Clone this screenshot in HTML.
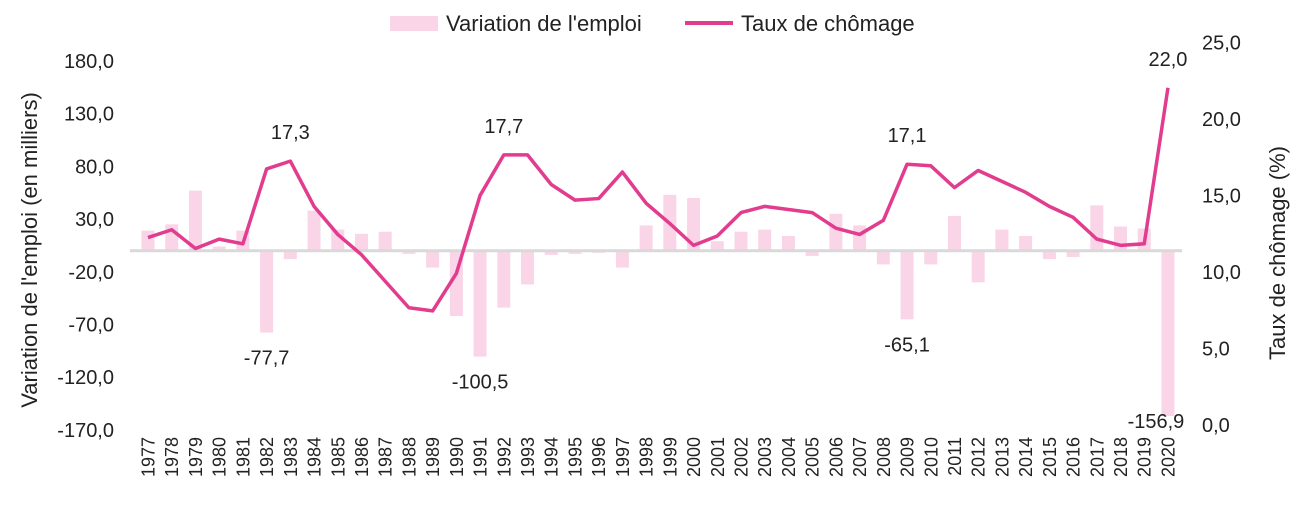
<!DOCTYPE html>
<html><head><meta charset="utf-8">
<style>
body{margin:0;background:#fff;}
svg{display:block;font-family:"Liberation Sans",Arial,sans-serif;}
</style></head>
<body>
<svg id="chart" width="1300" height="514" viewBox="0 0 1300 514" xmlns="http://www.w3.org/2000/svg">
<g>
<rect x="390" y="16" width="48" height="15" fill="#F9D5E7"/>
<text x="446" y="31" font-size="22" fill="#222">Variation de l'emploi</text>
<line x1="685" y1="23" x2="733" y2="23" stroke="#E23C8F" stroke-width="4"/>
<text x="741" y="31" font-size="22" fill="#222">Taux de chômage</text>
</g>
<text transform="translate(37,250) rotate(-90)" text-anchor="middle" font-size="22" fill="#222">Variation de l'emploi (en milliers)</text>
<text transform="translate(1285,253) rotate(-90)" text-anchor="middle" font-size="22" fill="#222">Taux de chômage (%)</text>
<g id="bars"></g><g id="zero"></g><g id="line"></g><g id="ticks"></g><g id="labels"></g>
</svg>
<script>
const years=[];for(let y=1977;y<=2020;y++)years.push(y);
const employment=[19,25,57,4,19,-77.7,-8,38,20,16,18,-3,-16,-62,-100.5,-54,-32,-4,-3,-2,-16,24,53,50,9,18,20,14,-5,35,24,-13,-65.1,-13,33,-30,20,14,-8,-6,43,23,21,-156.9];
const unemployment=[12.4,12.9,11.7,12.3,12.0,16.8,17.3,14.4,12.6,11.3,9.6,7.9,7.7,10.1,15.1,17.7,17.7,15.8,14.8,14.9,16.6,14.6,13.3,11.9,12.5,14.0,14.4,14.2,14.0,13.0,12.6,13.5,17.1,17.0,15.6,16.7,16.0,15.3,14.4,13.7,12.3,11.9,12.0,22.0];
const leftTicks=[180,130,80,30,-20,-70,-120,-170];
const rightTicks=[25,20,15,10,5,0];
const annotations=[[1983,'17,3','r'],[1982,'-77,7','e'],[1992,'17,7','r'],[1991,'-100,5','e'],[2009,'17,1','r'],[2009,'-65,1','e'],[2020,'22,0','r'],[2020,'-156,9','e']];
const NS='http://www.w3.org/2000/svg';
const x=i=>148+i*23.72;
const yL=v=>250.7-v*1.054;
const yR=v=>431-v*15.6;
const yRlab=v=>425-v*15.3;
function mk(tag,attrs,parent){const e=document.createElementNS(NS,tag);for(const k in attrs)e.setAttribute(k,attrs[k]);document.getElementById(parent).appendChild(e);return e;}
employment.forEach((v,i)=>{
 const r=mk('rect',{x:x(i)-6.5,y:Math.min(yL(v),yL(0)),width:13,height:Math.abs(yL(v)-yL(0)),fill:'#F9D5E7'},'bars');
 
 
});
const z=mk('line',{x1:130,x2:1182,y1:yL(0),y2:yL(0),stroke:'#D9D9D9','stroke-width':3},'zero');


const p=mk('polyline',{points:unemployment.map((v,i)=>x(i)+','+yR(v)).join(' '),fill:'none',stroke:'#E23C8F','stroke-width':3.5,'stroke-linejoin':'round'},'line');


leftTicks.forEach(v=>{
 const t=mk('text',{x:114,y:yL(v)+7,'text-anchor':'end','font-size':20,fill:'#222'},'ticks');
 t.textContent=v.toFixed(1).replace('.',',');
 
 
});
rightTicks.forEach(v=>{
 const t=mk('text',{x:1202,y:yRlab(v)+7,'font-size':20,fill:'#222'},'ticks');
 t.textContent=v.toFixed(1).replace('.',',');
 
 
});
years.forEach((yr,i)=>{
 const t=mk('text',{transform:'translate('+(x(i)+6.5)+',437) rotate(-90)','text-anchor':'end','font-size':18,fill:'#222'},'ticks');
 t.textContent=yr;
 
 
});
annotations.forEach(a=>{
 const i=years.indexOf(a[0]);
 let xx=x(i);
 let yy=a[2]==='r'?yR(unemployment[i])-22:yL(employment[i])+32;
 if(a[2]==='e'&&a[0]===2020){xx=x(i)-12;yy=yL(employment[i])+12;}
 const t=mk('text',{x:xx,y:yy,'text-anchor':'middle','font-size':20,fill:'#222'},'labels');
 t.textContent=a[1];
 
 
});
</script>
</body></html>
